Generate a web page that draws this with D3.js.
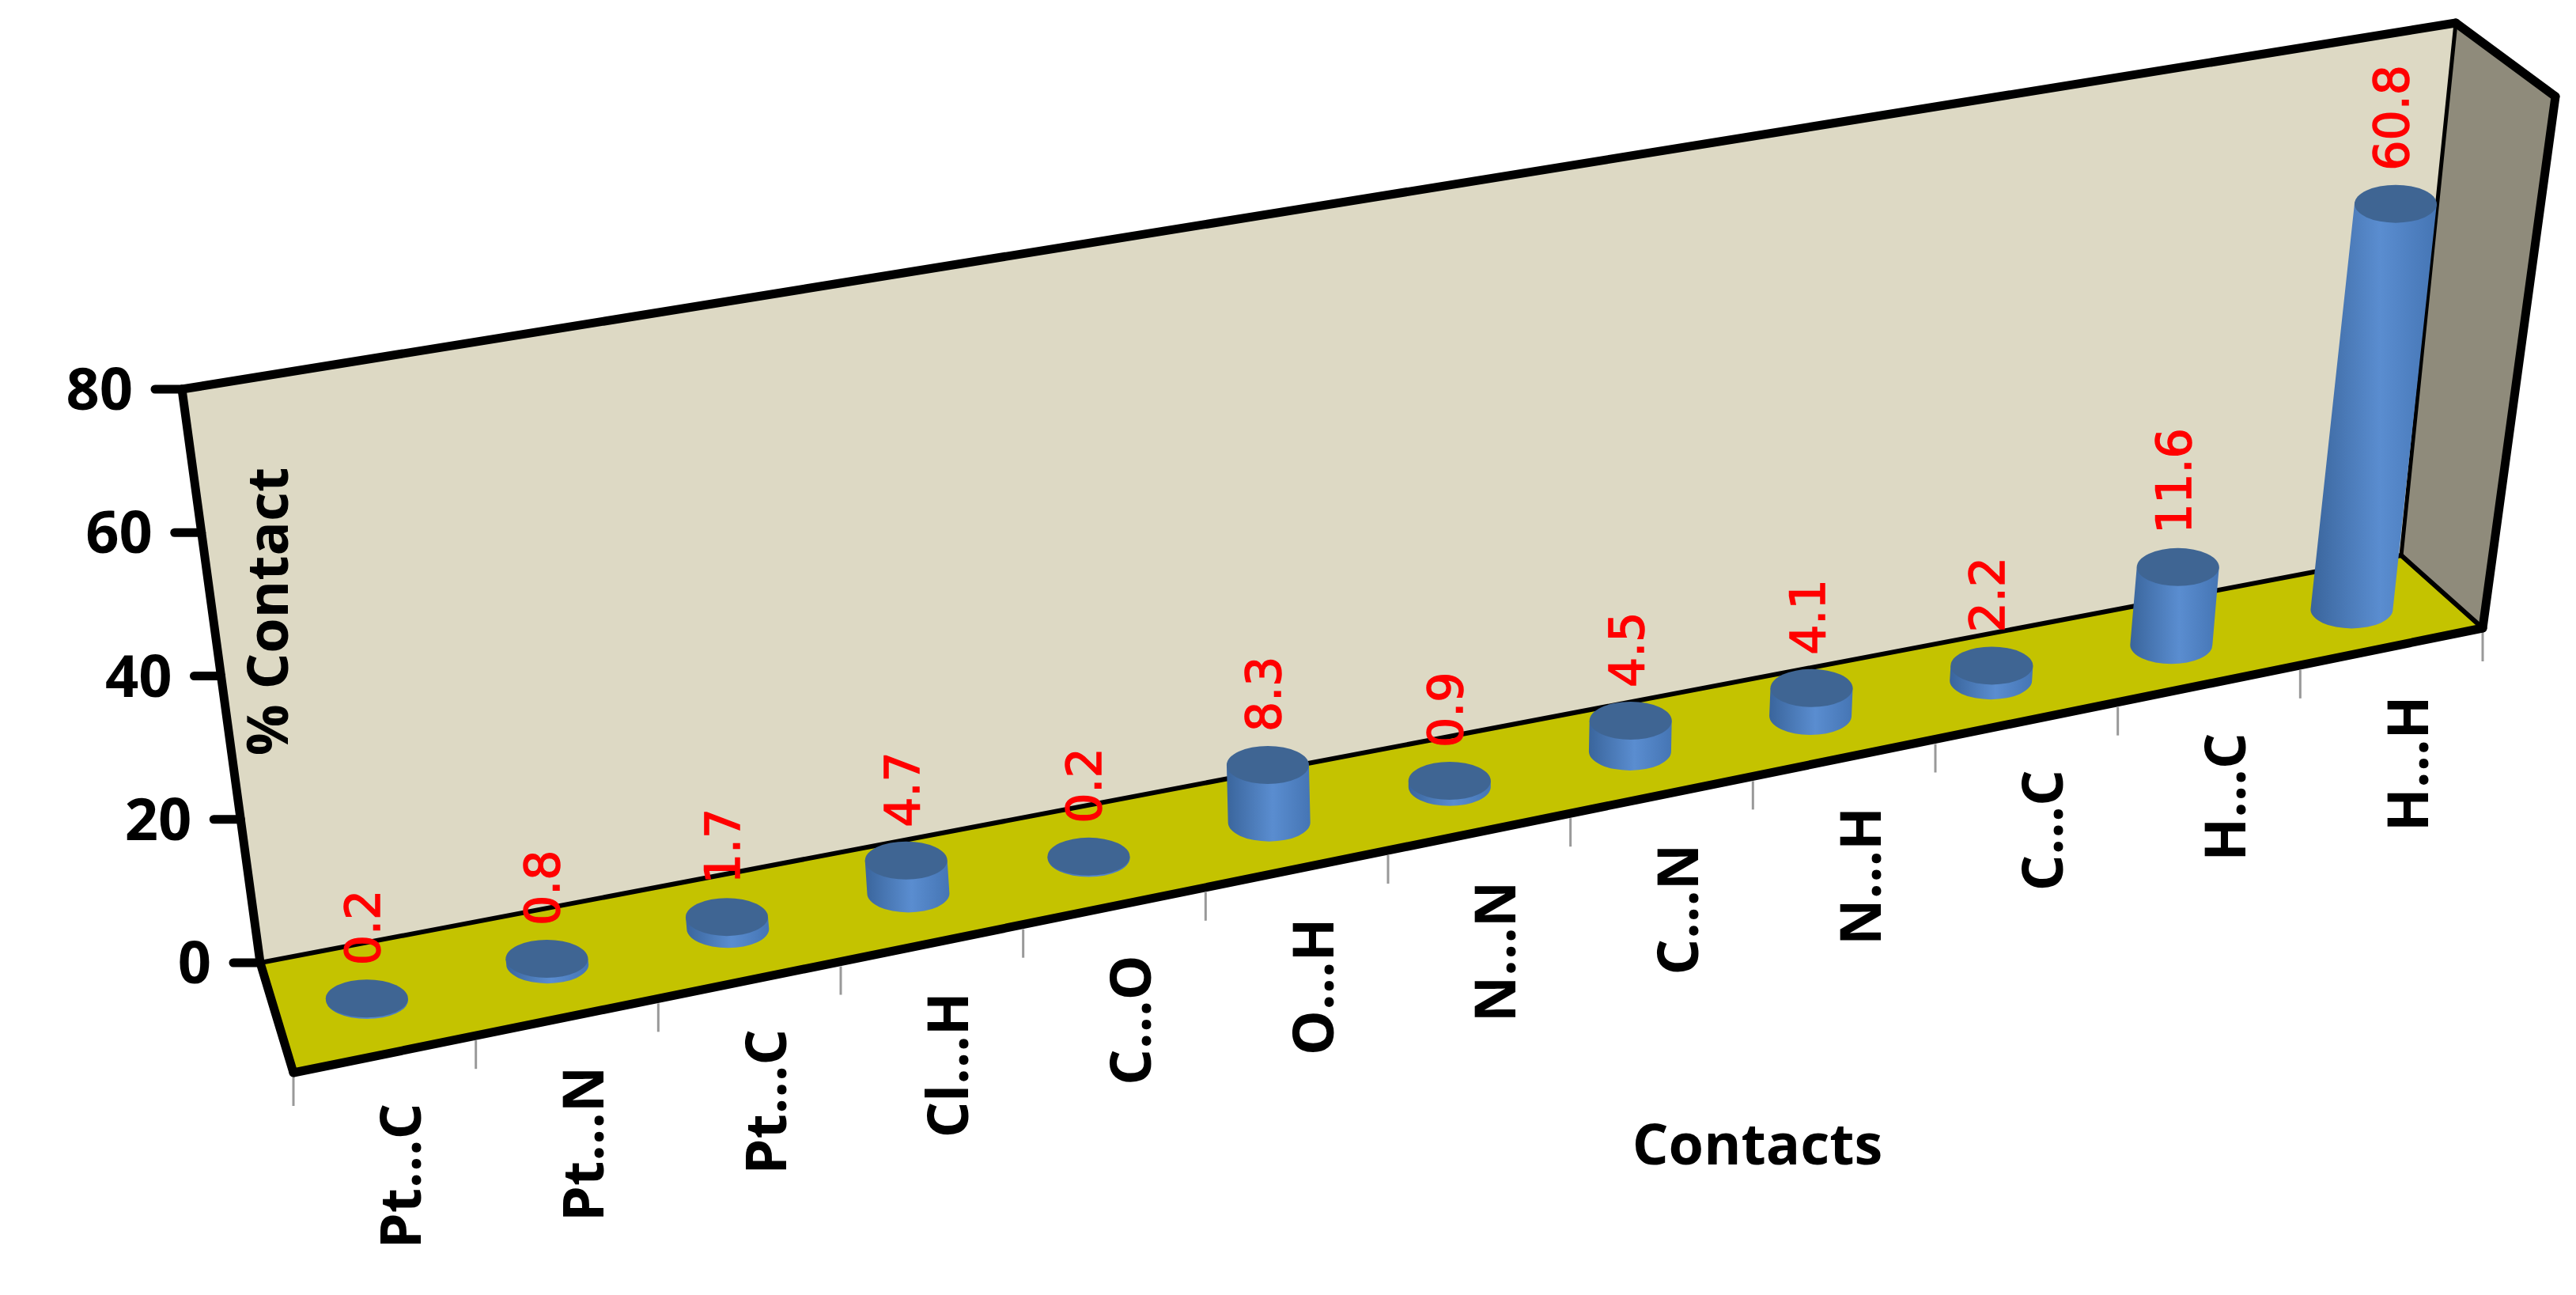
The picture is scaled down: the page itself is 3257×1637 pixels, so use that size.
<!DOCTYPE html>
<html><head><meta charset="utf-8">
<script src="https://cdn.jsdelivr.net/npm/d3@7"></script>
<style>body{margin:0;background:#fff}</style>
</head><body>
<svg id="chart" width="3257" height="1637"></svg>
<script>
// Data
const categories = ["Pt…C", "Pt…N", "Pt…C", "Cl…H", "C…O", "O…H", "N…N", "C…N", "N…H", "C…C", "H…C", "H…H"];
const values = [0.2, 0.8, 1.7, 4.7, 0.2, 8.3, 0.9, 4.5, 4.1, 2.2, 11.6, 60.8];
const yTicks = [0, 20, 40, 60, 80];

const svg = d3.select("#chart");

// 3D box corners (left/right at back/front, bottom/top)
const box = {
  b0: [[329, 1217], [3036, 702]],
  b1: [[230, 492], [3105, 29]],
  f0: [[371, 1356], [3139, 794]],
  f1: [[272, 631], [3231, 122]]
};
const lerp = (a, b, t) => [a[0] + (b[0] - a[0]) * t, a[1] + (b[1] - a[1]) * t];
// u: 0..1 along x, v: 0..1 height, w: 0 back .. 1 front
function project(u, v, w) {
  const back = lerp(lerp(box.b0[0], box.b0[1], u), lerp(box.b1[0], box.b1[1], u), v);
  const front = lerp(lerp(box.f0[0], box.f0[1], u), lerp(box.f1[0], box.f1[1], u), v);
  return lerp(back, front, w);
}

// Scales
const x = d3.scaleBand().domain(d3.range(categories.length)).range([0, 1]);
const y = d3.scaleLinear().domain([0, 80]).range([0, 1]);

const poly = pts => "M" + pts.map(p => p.join(",")).join("L") + "Z";

// Walls
svg.append("path")
  .attr("d", poly([project(0, 0, 0), project(1, 0, 0), project(1, 1, 0), project(0, 1, 0)]))
  .attr("fill", "#ddd9c4");
svg.append("path")
  .attr("d", poly([project(1, 0, 0), project(1, 0, 1), project(1, 1, 1), project(1, 1, 0)]))
  .attr("fill", "#8f8b7b");
svg.append("path")
  .attr("d", poly([project(0, 0, 0), project(1, 0, 0), project(1, 0, 1), project(0, 0, 1)]))
  .attr("fill", "#c4c300");

// Edges
const edge = (a, b, w) => svg.append("line")
  .attr("x1", a[0]).attr("y1", a[1]).attr("x2", b[0]).attr("y2", b[1])
  .attr("stroke", "#000").attr("stroke-width", w).attr("stroke-linecap", "round");
edge(project(0, 0, 0), project(1, 0, 0), 6);
edge(project(1, 0, 0), project(1, 1, 0), 5);
edge(project(1, 0, 0), project(1, 0, 1), 6);
edge(project(0, 1, 0), project(1, 1, 0), 11);
edge(project(1, 1, 0), project(1, 1, 1), 11);
edge(project(1, 1, 1), project(1, 0, 1), 11);
edge(project(0, 0, 1), project(1, 0, 1), 11);
edge(project(0, 0, 0), project(0, 0, 1), 11);
edge(project(0, 0, 0), project(0, 1, 0), 11);

// Y axis ticks and labels
yTicks.forEach(t => {
  const p = project(0, y(t), 0);
  edge([p[0] - 34, p[1]], p, 11);
  svg.append("text")
    .attr("x", p[0] - 62).attr("y", p[1] + 26)
    .attr("text-anchor", "end")
    .attr("font-family", "Open Sans").attr("font-weight", "bold").attr("font-size", 74)
    .text(t);
});

// X ticks on front edge
d3.range(categories.length + 1).forEach(i => {
  const p = project(i / categories.length, 0, 1);
  svg.append("line")
    .attr("x1", p[0]).attr("y1", p[1] + 6).attr("x2", p[0]).attr("y2", p[1] + 42)
    .attr("stroke", "#999").attr("stroke-width", 3);
});

// Gradient for cylinders
const grad = svg.append("defs").append("linearGradient").attr("id", "cyl");
grad.append("stop").attr("offset", "0%").attr("stop-color", "#3a659c");
grad.append("stop").attr("offset", "55%").attr("stop-color", "#5a8dd0");
grad.append("stop").attr("offset", "100%").attr("stop-color", "#4575b4");

const rx = 52, ry = 24;
values.forEach((v, i) => {
  const u = x(i) + x.bandwidth() / 2;
  const b = project(u, 0, 0.5);
  const t = project(u, y(v), 0.5);
  svg.append("path")
    .attr("d", `M${t[0] - rx},${t[1]}L${b[0] - rx},${b[1]}A${rx},${ry} 0 0 0 ${b[0] + rx},${b[1]}L${t[0] + rx},${t[1]}Z`)
    .attr("fill", "url(#cyl)");
  svg.append("ellipse")
    .attr("cx", t[0]).attr("cy", t[1]).attr("rx", rx).attr("ry", ry)
    .attr("fill", "#3f6593");
  svg.append("text")
    .attr("transform", `translate(${t[0] + 16},${t[1] - 42}) rotate(-90)`)
    .attr("font-family", "DejaVu Sans").attr("font-size", 60).attr("fill", "#ff0000")
    .attr("stroke", "#ff0000").attr("stroke-width", 1.5)
    .text(v);
  const f = project(u, 0, 1);
  svg.append("text")
    .attr("transform", `translate(${f[0] + 46},${f[1] + 62}) rotate(-90)`)
    .attr("text-anchor", "end")
    .attr("font-family", "Open Sans").attr("font-weight", "bold").attr("font-size", 72)
    .text(categories[i]);
});

// Axis titles
svg.append("text")
  .attr("transform", "translate(364,773) rotate(-90)")
  .attr("text-anchor", "middle")
  .attr("font-family", "Open Sans").attr("font-weight", "bold").attr("font-size", 72)
  .text("% Contact");
svg.append("text")
  .attr("x", 2222).attr("y", 1472)
  .attr("text-anchor", "middle")
  .attr("font-family", "Open Sans").attr("font-weight", "bold").attr("font-size", 72)
  .text("Contacts");
</script>
</body></html>
